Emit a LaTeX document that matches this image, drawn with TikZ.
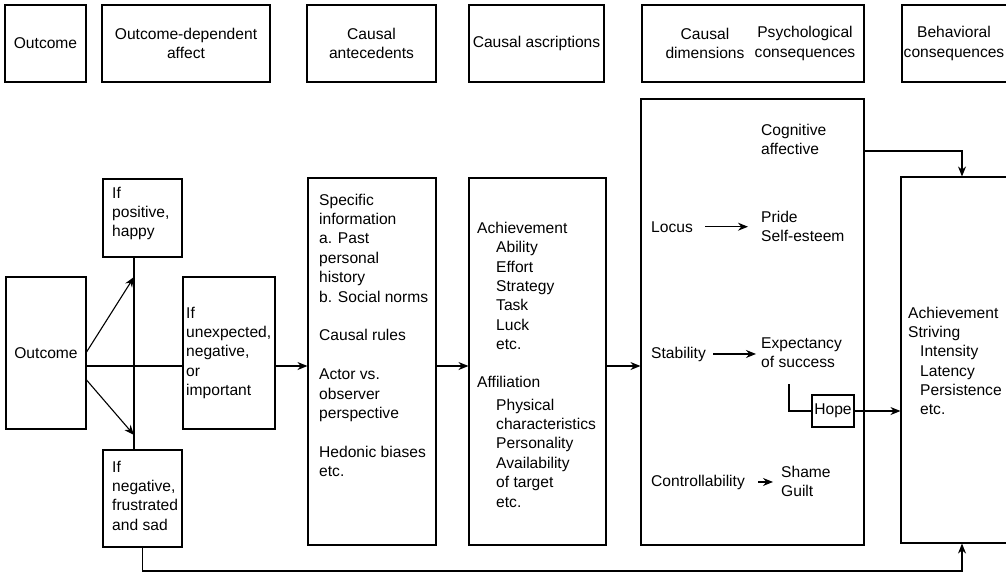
\documentclass[tikz,border=0pt]{standalone}
\usepackage{fontspec}
\setmainfont{Liberation Sans}
\usetikzlibrary{arrows.meta,calc}
\begin{document}
\begin{tikzpicture}[x=1pt,y=-1pt,
  font=\fontsize{15.6}{19.4}\selectfont,
  box/.style={draw, line width=1.1pt, inner sep=0pt, align=center},
  % multi-line texts sit on the baseline of their last line
  txt/.style={anchor=base west, align=left, inner sep=0pt},
  ctxt/.style={align=center, inner sep=0pt},
  ln/.style={line width=1.1pt},
  arr/.style={line width=1.1pt, -{Stealth[length=10pt,width=8pt]}}]
\useasboundingbox (0,0) rectangle (1006,574);
\fill[white] (0,0) rectangle (1006,574);

% heading row
\node[box, minimum width=81pt, minimum height=77pt] (hOut) at (45.5,43.5) {Outcome};
\node[box, minimum width=168pt, minimum height=77pt] (hAff) at (186,43.5) {Outcome-dependent\\affect};
\node[box, minimum width=129pt, minimum height=77pt] (hAnt) at (371.5,43.5) {Causal\\antecedents};
\node[box, minimum width=135pt, minimum height=77pt] (hAsc) at (536.5,43.5) {Causal ascriptions};
\node[box, minimum width=222pt, minimum height=77pt] (hDim) at (753,43.5) {};
\node[ctxt] (hDimA) at (705,43.5) {Causal\\dimensions};
\node[ctxt] (hDimB) at (805,43.5) {Psychological\\consequences};
\node[box, minimum width=113pt, minimum height=77pt] (hBeh) at (958.5,43.5) {};
\node[ctxt] (hBehT) at (954,43.5) {Behavioral\\consequences};

% outcome and affect
\node[box, minimum width=80pt, minimum height=152pt] (out) at (46,353) {Outcome};
\node[box, minimum width=79pt, minimum height=78pt] (pos) at (142.5,218) {};
\node[txt] (posT) at (112,236.8) {If\\positive,\\happy};
\node[box, minimum width=92pt, minimum height=152pt] (unx) at (229,353) {};
\node[txt] (unxT) at (186,395.6) {If\\unexpected,\\negative,\\or\\important};
\node[box, minimum width=79pt, minimum height=97pt] (neg) at (142.5,498.5) {};
\node[txt] (negT) at (112,530.2) {If\\negative,\\frustrated\\and sad};

% causal antecedents
\node[box, minimum width=128pt, minimum height=367pt] (ant) at (372,361.5) {};
\node[txt] (antT) at (319,476.6) {Specific\\information\\a. Past\\personal\\history\\b. Social norms\\[19.4pt]Causal rules\\[19.4pt]Actor vs.\\observer\\perspective\\[19.4pt]Hedonic biases\\etc.};

% causal ascriptions
\node[box, minimum width=137pt, minimum height=367pt] (asc) at (537.5,361.5) {};
\node[txt] (achH) at (477,233) {Achievement};
\node[txt] (achL) at (496,349.6) {Ability\\Effort\\Strategy\\Task\\Luck\\etc.};
\node[txt] (affH) at (477,387) {Affiliation};
\node[txt] (affL) at (496,507) {Physical\\characteristics\\Personality\\Availability\\of target\\etc.};

% causal dimensions and psychological consequences
\node[box, minimum width=223pt, minimum height=446pt] (dim) at (752.5,322) {};
\node[txt] (cog) at (761,154.4) {Cognitive\\affective};
\node[txt] (locus) at (651,232) {Locus};
\node[txt] (pride) at (761,241.4) {Pride\\Self-esteem};
\node[txt] (stab) at (651,358) {Stability};
\node[txt] (expect) at (761,367.4) {Expectancy\\of success};
\node[txt] (contr) at (651,486) {Controllability};
\node[txt] (shame) at (781,496.4) {Shame\\Guilt};
\node[box, minimum width=42pt, minimum height=32pt] (hope) at (833,411) {Hope};

% behavioral consequences
\node[box, minimum width=114pt, minimum height=366pt] (ach) at (958,360) {};
\node[txt] (achS) at (908,337.4) {Achievement\\Striving};
\node[txt] (achM) at (920,414.9) {Intensity\\Latency\\Persistence\\etc.};

% connectors
\coordinate (vUp) at (134,277);
\coordinate (vDn) at (134,435);
\coordinate (row) at (0,366);
\coordinate (k) at (962,151);
\coordinate (b) at (962,571);
\coordinate (e) at (789,384);

\draw[ln] (pos.south -| vUp) -- (neg.north -| vUp);
\draw[arr] ($(out.east)+(0,-1)$) -- (vUp);
\draw[arr] ($(out.east)+(0,27)$) -- (vDn);
\draw[ln] (out.east |- row) -- (unx.west |- row);
\draw[arr] (unx.east |- row) -- (ant.west |- row);
\draw[arr] (ant.east |- row) -- (asc.west |- row);
\draw[arr] (asc.east |- row) -- (dim.west |- row);

\draw[arr, shorten <=12pt, shorten >=13pt] (locus.east) -- (locus.east -| pride.west);
\draw[arr, shorten <=7pt, shorten >=5pt] (stab.east) -- (stab.east -| expect.west);
\draw[arr, shorten <=13pt, shorten >=8pt] (contr.east) -- (contr.east -| shame.west);

\draw[ln] (e) |- (hope.west);
\draw[arr] (hope.east) -- (hope.east -| ach.west);
\draw[arr] (dim.east |- k) -| (ach.north -| k);
\draw[arr] (neg.south) |- (b) -- (b |- ach.south);
\end{tikzpicture}
\end{document}
